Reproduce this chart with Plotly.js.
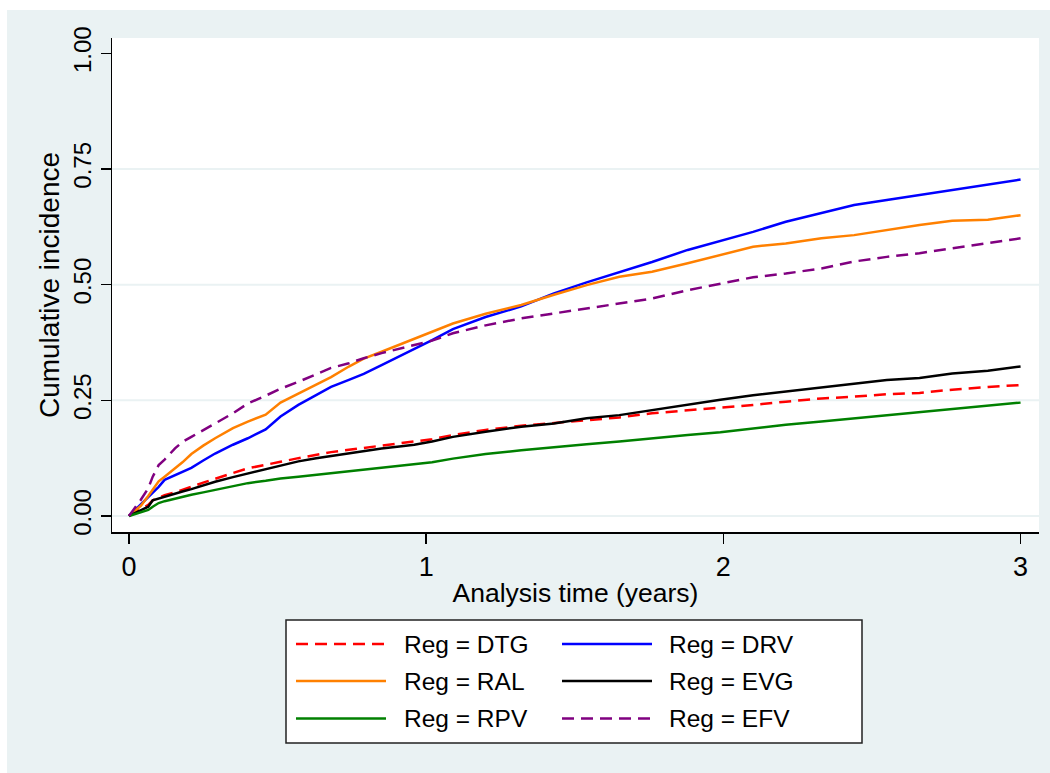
<!DOCTYPE html>
<html>
<head>
<meta charset="utf-8">
<script src="https://cdn.plot.ly/plotly-3.0.1.min.js"></script>
<style>html,body{margin:0;padding:0;background:#fff;}#chart{width:1050px;height:773px;}</style>
</head>
<body>
<div id="chart"></div>
<script>
// Analysis time (years)
const time = [0, 0.04, 0.065, 0.08, 0.10, 0.12, 0.155, 0.18, 0.21, 0.25, 0.29, 0.35, 0.40, 0.46, 0.51, 0.57, 0.63, 0.68, 0.74, 0.79, 0.85, 0.91, 0.96, 1.02, 1.09, 1.20, 1.32, 1.43, 1.54, 1.65, 1.76, 1.88, 1.99, 2.10, 2.21, 2.33, 2.44, 2.55, 2.66, 2.77, 2.89, 3.00];

// Cumulative incidence by regimen
const DTG = [0, 0.015, 0.024, 0.034, 0.040, 0.045, 0.051, 0.056, 0.063, 0.072, 0.081, 0.093, 0.103, 0.110, 0.117, 0.125, 0.132, 0.138, 0.143, 0.147, 0.151, 0.156, 0.161, 0.166, 0.175, 0.186, 0.195, 0.201, 0.207, 0.213, 0.222, 0.228, 0.233, 0.240, 0.247, 0.254, 0.258, 0.263, 0.266, 0.273, 0.279, 0.283];
const RAL = [0, 0.022, 0.043, 0.058, 0.075, 0.085, 0.103, 0.116, 0.134, 0.152, 0.168, 0.190, 0.204, 0.219, 0.245, 0.265, 0.284, 0.300, 0.323, 0.340, 0.355, 0.370, 0.384, 0.399, 0.416, 0.437, 0.456, 0.478, 0.499, 0.517, 0.528, 0.546, 0.564, 0.582, 0.589, 0.600, 0.607, 0.618, 0.629, 0.638, 0.640, 0.650];
const RPV = [0, 0.009, 0.013, 0.020, 0.028, 0.032, 0.038, 0.042, 0.046, 0.051, 0.056, 0.064, 0.071, 0.076, 0.081, 0.085, 0.089, 0.092, 0.096, 0.100, 0.104, 0.108, 0.112, 0.116, 0.124, 0.134, 0.142, 0.149, 0.155, 0.161, 0.168, 0.175, 0.181, 0.189, 0.197, 0.204, 0.211, 0.218, 0.225, 0.232, 0.238, 0.245];
const DRV = [0, 0.025, 0.042, 0.052, 0.063, 0.078, 0.088, 0.096, 0.104, 0.120, 0.135, 0.154, 0.168, 0.187, 0.215, 0.240, 0.262, 0.279, 0.294, 0.307, 0.326, 0.345, 0.362, 0.380, 0.404, 0.430, 0.453, 0.481, 0.505, 0.527, 0.549, 0.575, 0.594, 0.614, 0.636, 0.654, 0.672, 0.683, 0.694, 0.704, 0.717, 0.727];
const EVG = [0, 0.012, 0.020, 0.034, 0.038, 0.042, 0.048, 0.053, 0.058, 0.066, 0.074, 0.084, 0.092, 0.101, 0.110, 0.118, 0.125, 0.130, 0.135, 0.140, 0.146, 0.150, 0.154, 0.161, 0.171, 0.182, 0.193, 0.200, 0.211, 0.218, 0.229, 0.240, 0.251, 0.261, 0.269, 0.279, 0.287, 0.294, 0.298, 0.308, 0.314, 0.323];
const EFV = [0, 0.035, 0.060, 0.085, 0.110, 0.122, 0.146, 0.160, 0.171, 0.185, 0.200, 0.222, 0.243, 0.260, 0.275, 0.290, 0.306, 0.320, 0.330, 0.341, 0.352, 0.361, 0.369, 0.379, 0.395, 0.412, 0.427, 0.438, 0.449, 0.460, 0.470, 0.488, 0.502, 0.516, 0.524, 0.535, 0.550, 0.560, 0.568, 0.578, 0.589, 0.600];

const regimens = ['DTG', 'DRV', 'RAL', 'EVG', 'RPV', 'EFV'];
const values = {DTG: DTG, DRV: DRV, RAL: RAL, EVG: EVG, RPV: RPV, EFV: EFV};
const colors = {DTG: '#ff0000', DRV: '#0000ff', RAL: '#ff8000', EVG: '#000000', RPV: '#008000', EFV: '#800080'};
const dashes = {DTG: '12px,7px', DRV: 'solid', RAL: 'solid', EVG: 'solid', RPV: 'solid', EFV: '12px,7px'};

const xTicks = [0, 1, 2, 3];
const yTicks = [0, 0.25, 0.5, 0.75, 1];
const yTickText = ['0.00', '0.25', '0.50', '0.75', '1.00'];
const gridVals = [0, 0.25, 0.5, 0.75];

const FONT = '"Liberation Sans", Arial, Helvetica, sans-serif';
const BG = '#eaf2f3';

// page geometry (pixels)
const M = {l: 112, r: 11, t: 38, b: 241};
const PW = 1050 - M.l - M.r, PH = 773 - M.t - M.b;
const px = v => (v - M.l) / PW;
const py = v => (773 - M.b - v) / PH;

const traces = regimens.map(r => ({
  type: 'scatter', mode: 'lines', x: time, y: values[r], name: 'Reg = ' + r,
  line: {color: colors[r], width: 2.5, dash: dashes[r]}, showlegend: false, hoverinfo: 'skip'
}));

const shapes = [];
const annotations = [];
// white margins outside the outer panel
shapes.push({type: 'rect', xref: 'paper', yref: 'paper', x0: px(0), x1: px(1050), y0: py(0), y1: py(10), fillcolor: '#ffffff', line: {width: 0}, layer: 'below'});
shapes.push({type: 'rect', xref: 'paper', yref: 'paper', x0: px(0), x1: px(7), y0: py(0), y1: py(773), fillcolor: '#ffffff', line: {width: 0}, layer: 'below'});
// grid lines
gridVals.forEach(g => shapes.push({type: 'line', xref: 'paper', yref: 'y', x0: 0, x1: 1, y0: g, y1: g, line: {color: BG, width: 2}, layer: 'below'}));
// legend box
shapes.push({type: 'rect', xref: 'paper', yref: 'paper', x0: px(286), x1: px(862), y0: py(620), y1: py(743), fillcolor: '#ffffff', line: {color: '#222222', width: 1.5}});
const legendOrder = ['DTG', 'DRV', 'RAL', 'EVG', 'RPV', 'EFV'];
const colX = [[296, 386, 402], [562, 652, 667]];
const rowY = [644, 681, 718.5];
legendOrder.forEach((r, i) => {
  const c = colX[i % 2], yy = rowY[Math.floor(i / 2)];
  shapes.push({type: 'line', xref: 'paper', yref: 'paper', x0: px(c[0]), x1: px(c[1]), y0: py(yy), y1: py(yy), line: {color: colors[r], width: 2.5, dash: dashes[r]}});
  annotations.push({xref: 'paper', yref: 'paper', x: px(c[2]), y: py(yy), xanchor: 'left', yanchor: 'middle', showarrow: false, text: 'Reg = ' + r, font: {family: FONT, size: 24.5, color: '#000'}});
});

const layout = {
  width: 1050, height: 773,
  margin: M,
  paper_bgcolor: BG, plot_bgcolor: '#ffffff',
  font: {family: FONT, color: '#000'},
  showlegend: false,
  xaxis: {
    range: [-0.057, 3.062], tickvals: xTicks, ticktext: xTicks.map(String),
    ticks: 'outside', ticklen: 10, tickwidth: 1.5, tickcolor: '#000',
    showline: true, linecolor: '#000', linewidth: 1.5, showgrid: false, zeroline: false,
    tickfont: {family: FONT, size: 27, color: '#000'},
    title: {text: 'Analysis time (years)', font: {family: FONT, size: 26.5, color: '#000'}, standoff: 2}
  },
  yaxis: {
    range: [-0.0346, 1.033], tickvals: yTicks, ticktext: yTickText, tickangle: -90,
    ticks: 'outside', ticklen: 10, tickwidth: 1.5, tickcolor: '#000',
    showline: true, linecolor: '#000', linewidth: 1.5, showgrid: false, zeroline: false,
    tickfont: {family: FONT, size: 24, color: '#000'},
    title: {text: 'Cumulative incidence', font: {family: FONT, size: 28, color: '#000'}, standoff: 1}
  },
  shapes: shapes,
  annotations: annotations
};

Plotly.newPlot('chart', traces, layout, {displayModeBar: false, staticPlot: true});
</script>
</body>
</html>
